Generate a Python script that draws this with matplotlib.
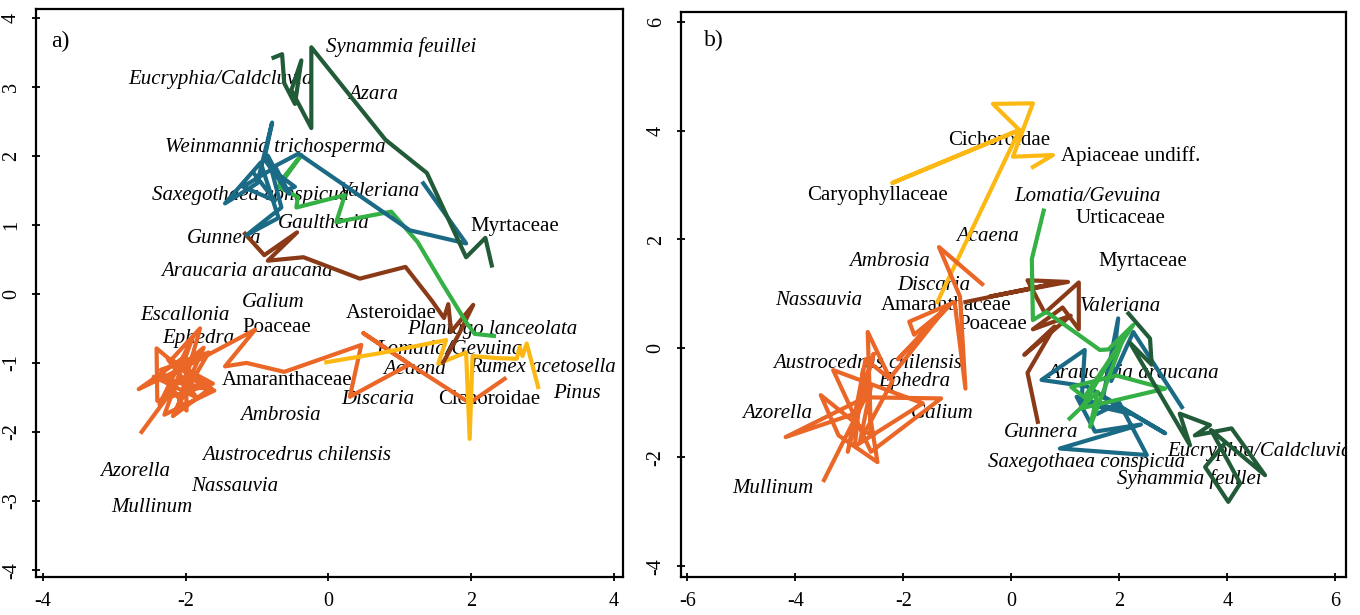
import matplotlib
matplotlib.use("Agg")
import matplotlib.pyplot as plt

# colours of the pollen zones
DARK_GREEN = "#215b38"
TEAL = "#1b6a86"
LIGHT_GREEN = "#34b044"
BROWN = "#8a3a17"
ORANGE = "#ea6727"
YELLOW = "#fcb913"

# ---- panel a) trajectories (x, y in ordination units) ----
a_dark_green_x = [-0.77, -0.65, -0.62, -0.47, -0.38, -0.52, -0.24, -0.24, 0.80, 1.38, 1.93, 2.20, 2.29]
a_dark_green_y = [3.42, 3.47, 3.05, 2.75, 3.38, 2.95, 2.40, 3.57, 2.23, 1.75, 0.53, 0.81, 0.41]

a_teal_x = [1.33, 1.93, 1.14, -0.42, -0.75, -0.55, -0.90, -0.79, -1.00, -1.45, -0.95, -0.70, -1.15,
            -0.66, -0.85, -0.60, -0.47, -0.80, -1.20, -0.75, -1.05]
a_teal_y = [1.60, 0.73, 0.92, 2.03, 1.85, 1.45, 1.95, 2.48, 1.60, 1.31, 1.90, 1.10, 0.85,
            1.25, 2.00, 1.50, 1.55, 1.80, 1.55, 1.35, 1.75]

a_light_green_x = [2.32, 2.05, 1.93, 1.59, 1.25, 0.88, 0.11, 0.23, -0.45, -0.43, -0.70, -0.38, -0.68]
a_light_green_y = [-0.61, -0.58, -0.41, 0.16, 0.75, 1.19, 1.04, 1.43, 1.25, 1.40, 1.55, 2.01, 1.62]

a_brown_x = [-1.17, -0.90, -0.44, -0.85, -0.35, 0.44, 1.08, 1.45, 1.62, 1.68, 1.72, 2.03, 1.82, 1.61]
a_brown_y = [0.87, 0.56, 0.89, 0.48, 0.53, 0.22, 0.39, -0.10, -0.35, -0.15, -0.55, -0.16, -0.60, -0.99]

a_orange_x = [2.47, 1.98, 1.14, 0.49, 1.14, 0.30, 0.46, -0.62, -1.15, -1.45, -1.03, -1.90, -2.66,
              -2.00, -1.99, -2.35, -1.68, -2.10, -1.80, -2.20, -1.63, -2.30, -1.75, -2.18, -1.70,
              -2.41, -2.40, -1.62, -2.25, -1.85, -2.45, -1.60, -2.30, -1.90, -2.37, -2.05, -2.62]
a_orange_y = [-1.23, -1.58, -1.02, -0.57, -1.02, -1.49, -0.74, -1.13, -1.00, -1.05, -0.52, -1.00, -1.38,
              -0.90, -1.69, -1.10, -0.85, -1.60, -0.50, -0.95, -1.38, -1.25, -0.78, -1.77, -1.40,
              -0.79, -1.55, -1.30, -0.95, -1.50, -1.20, -1.40, -1.75, -0.62, -1.60, -1.20, -2.00]

a_yellow_x = [-0.03, 0.72, 1.65, 1.54, 1.93, 1.98, 2.02, 2.35, 2.64, 2.68, 2.72, 2.78, 2.94]
a_yellow_y = [-0.99, -0.86, -0.67, -1.01, -0.85, -2.10, -0.90, -0.93, -0.94, -0.77, -0.90, -0.72, -1.35]

# taxa labels of panel a)
a_labels = ["Synammia feuillei", "Eucryphia/Caldcluvia", "Azara", "Weinmannia trichosperma",
            "Saxegothaea conspicua", "Valeriana", "Gaultheria", "Myrtaceae", "Gunnera",
            "Araucaria araucana", "Galium", "Escallonia", "Poaceae", "Ephedra", "Asteroidae",
            "Plantago lanceolata", "Lomatia/Gevuina", "Acaena", "Rumex acetosella",
            "Amaranthaceae", "Discaria", "Cichoroidae", "Pinus", "Ambrosia",
            "Austrocedrus chilensis", "Azorella", "Nassauvia", "Mullinum"]
a_label_x = [1.02, -1.51, 0.63, -0.74, -1.09, 0.71, -0.07, 2.61, -1.46, -1.14, -0.77, -2.01, -0.72,
             -1.82, 0.88, 2.29, 1.69, 1.20, 3.00, -0.58, 0.69, 2.26, 3.48, -0.68, -0.44, -2.71,
             -1.32, -2.48]
a_label_y = [3.58, 3.10, 2.88, 2.12, 1.43, 1.48, 1.02, 0.97, 0.80, 0.32, -0.13, -0.32, -0.49,
             -0.65, -0.28, -0.51, -0.80, -1.09, -1.06, -1.25, -1.53, -1.53, -1.44, -1.76, -2.34,
             -2.57, -2.79, -3.09]
a_label_italic = [True, True, True, True, True, True, True, False, True, True, True, True, False,
                  True, False, True, True, True, True, False, True, False, True, True, True, True,
                  True, True]

# ---- panel b) trajectories ----
b_yellow_x = [-1.37, 0.15, -2.20, 0.15, -0.34, 0.40, 0.03, 0.77, 0.40]
b_yellow_y = [0.85, 4.01, 3.04, 4.01, 4.49, 4.50, 3.52, 3.55, 3.33]

b_orange_x = [-0.54, -1.34, -0.95, -0.85, -1.05, -1.89, -1.80, -1.15, -2.10, -1.25, -2.25, -2.66,
              -2.60, -3.53, -3.20, -2.48, -2.75, -2.90, -1.64, -3.30, -2.60, -1.30, -2.70, -4.18,
              -2.90, -2.55, -3.03, -2.70, -2.20, -2.80, -2.60, -3.47]
b_orange_y = [1.18, 1.86, 0.95, -0.74, 0.85, 0.49, 0.25, 0.78, -0.20, 0.70, -0.55, 0.30,
              -1.60, -0.86, -1.60, -2.09, -0.40, -1.80, -1.01, -0.40, -1.90, -0.92, -0.90, -1.63,
              -1.20, -0.10, -1.90, -0.20, -0.60, -1.70, -0.70, -2.42]

b_brown_x = [-0.85, 0.85, -0.40, 1.05, 0.30, 0.62, 1.25, 1.25, 0.95, 0.40, 1.10, 0.24, 0.80, 0.30, 0.49]
b_brown_y = [0.85, 1.20, 0.95, 1.22, 1.25, 0.65, 1.21, 0.35, 0.75, 0.35, 0.60, -0.12, 0.40, -0.45, -1.35]

b_light_green_x = [0.60, 0.38, 0.40, 0.65, 1.64, 1.80, 2.26, 1.35, 1.11, 1.95, 2.85, 1.30, 2.10, 1.46, 1.60, 1.08]
b_light_green_y = [2.53, 1.64, 0.52, 0.67, -0.03, -0.02, 0.43, -0.90, -0.71, -0.50, -0.74, -1.10, 0.25, -1.44, -0.80, -1.29]

b_teal_x = [3.16, 2.26, 1.85, 1.98, 1.70, 2.85, 1.40, 0.56, 1.36, 1.30, 2.20, 1.21, 1.55, 2.40, 0.90, 2.51, 2.00, 1.60]
b_teal_y = [-1.08, 0.30, -0.60, 0.55, -0.90, -1.56, -0.70, -0.58, -0.03, -1.00, -1.20, -0.89, -1.53, -1.40, -1.84, -1.96, -1.00, -1.20]

b_dark_green_x = [2.17, 2.57, 2.60, 2.20, 3.31, 3.12, 3.68, 3.40, 4.08, 4.70, 3.70, 4.24, 4.02, 3.59, 3.95]
b_dark_green_y = [0.64, 0.18, -0.30, 0.10, -1.78, -1.20, -1.41, -1.60, -1.47, -2.33, -1.50, -2.48, -2.82, -2.18, -1.75]

b_labels = ["Cichoroidae", "Apiaceae undiff.", "Caryophyllaceae", "Lomatia/Gevuina", "Urticaceae",
            "Acaena", "Ambrosia", "Myrtaceae", "Discaria", "Nassauvia", "Amaranthaceae",
            "Valeriana", "Poaceae", "Austrocedrus chilensis", "Araucaria araucana", "Ephedra",
            "Azorella", "Galium", "Gunnera", "Eucryphia/Caldcluvia", "Saxegothaea conspicua",
            "Synammia feullei", "Mullinum"]
b_label_x = [-0.23, 2.21, -2.48, 1.41, 2.02, -0.45, -2.25, 2.43, -1.43, -3.57, -1.21, 2.03, -0.34,
             -2.67, 2.26, -1.80, -4.34, -1.28, 0.56, 4.59, 1.40, 3.29, -4.42]
b_label_y = [3.81, 3.53, 2.81, 2.78, 2.39, 2.05, 1.59, 1.59, 1.15, 0.87, 0.78, 0.76, 0.43,
             -0.27, -0.46, -0.61, -1.20, -1.19, -1.55, -1.89, -2.09, -2.41, -2.57]
b_label_italic = [False, False, False, True, False, True, True, False, True, True, False, True,
                  False, True, True, True, True, True, True, True, True, True, True]

plt.rcParams['font.family'] = ['Liberation Serif', 'DejaVu Serif']

LW = 3.0


def style_axes(ax, xlim, ylim, xticks, yticks):
    """R style box with crossing ticks, rotated y labels"""
    ax.set_xlim(*xlim)
    ax.set_ylim(*ylim)
    ax.set_xticks(xticks)
    ax.set_yticks(yticks)
    ax.set_xticklabels([str(t) for t in xticks], fontsize=14.5)
    ax.set_yticklabels([str(t) for t in yticks], fontsize=14.5, rotation=90, va='center')
    ax.tick_params(direction='inout', length=6, width=1.3, pad=8)
    for sp in ax.spines.values():
        sp.set_linewidth(1.6)


def draw_labels(ax, names, xs, ys, italic):
    for name, x, y, it in zip(names, xs, ys, italic):
        ax.text(x, y, name, fontsize=15, style='italic' if it else 'normal',
                ha='center', va='center', zorder=1, clip_on=True)


fig = plt.figure(figsize=(13.6, 6.15), dpi=100)

# panel a)
ax1 = fig.add_axes([0.0265, 0.0618, 0.4316, 0.9242])
draw_labels(ax1, a_labels, a_label_x, a_label_y, a_label_italic)
ax1.plot(a_orange_x, a_orange_y, color=ORANGE, lw=LW, zorder=2)
ax1.plot(a_yellow_x, a_yellow_y, color=YELLOW, lw=LW, zorder=2)
ax1.plot(a_brown_x, a_brown_y, color=BROWN, lw=LW, zorder=2)
ax1.plot(a_light_green_x, a_light_green_y, color=LIGHT_GREEN, lw=LW, zorder=2)
ax1.plot(a_teal_x, a_teal_y, color=TEAL, lw=LW, zorder=2)
ax1.plot(a_dark_green_x, a_dark_green_y, color=DARK_GREEN, lw=LW, zorder=2)
ax1.text(-3.76, 3.66, "a)", fontsize=17, ha='center', va='center')
style_axes(ax1, (-4.1, 4.13), (-4.1, 4.13), [-4, -2, 0, 2, 4], [-4, -3, -2, -1, 0, 1, 2, 3, 4])

# panel b)
ax2 = fig.add_axes([0.5007, 0.0618, 0.489, 0.918])
draw_labels(ax2, b_labels, b_label_x, b_label_y, b_label_italic)
ax2.plot(b_yellow_x, b_yellow_y, color=YELLOW, lw=LW, zorder=2)
ax2.plot(b_orange_x, b_orange_y, color=ORANGE, lw=LW, zorder=2)
ax2.plot(b_brown_x, b_brown_y, color=BROWN, lw=LW, zorder=2)
ax2.plot(b_teal_x, b_teal_y, color=TEAL, lw=LW, zorder=2)
ax2.plot(b_light_green_x, b_light_green_y, color=LIGHT_GREEN, lw=LW, zorder=2)
ax2.plot(b_dark_green_x, b_dark_green_y, color=DARK_GREEN, lw=LW, zorder=2)
ax2.text(-5.52, 5.65, "b)", fontsize=17, ha='center', va='center')
style_axes(ax2, (-6.12, 6.2), (-4.2, 6.17), [-6, -4, -2, 0, 2, 4, 6], [-4, -2, 0, 2, 4, 6])

fig.savefig("out.png", dpi=100)
print("saved out.png")
